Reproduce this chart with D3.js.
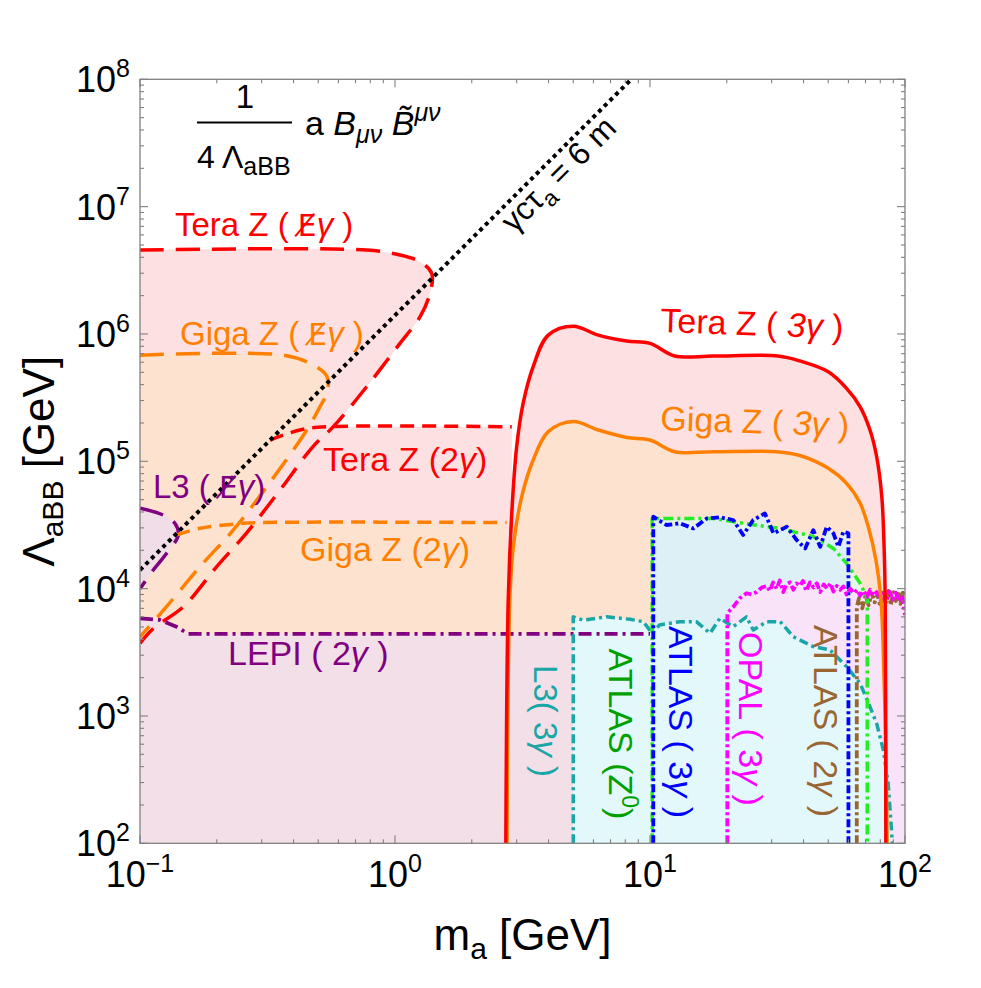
<!DOCTYPE html>
<html><head><meta charset="utf-8">
<script src="https://cdn.jsdelivr.net/npm/d3@7"></script>
<style>body{margin:0;background:#fff} svg text{font-family:"Liberation Sans",Arial,sans-serif}</style>
</head><body><svg id="c" width="981" height="988"></svg>
<script>
// ---------- data (m_a [GeV], Lambda_aBB [GeV]) ----------
const xTickExps = [-1, 0, 1, 2];
const yTickExps = [2, 3, 4, 5, 6, 7, 8];

const decayLine = [[0.1, 1.4e4], [8.4, 9.9e7]];

const teraMissE = [[0.1,4.56e6],[0.774,4.56e6],[1.046,4.17e6],[1.253,3.69e6],[1.393,2.99e6],[1.371,2.08e6],[1.253,1.36e6],[1.046,8.43e5],[0.774,3.85e5],[0.573,1.87e5],[0.476,1.30e5],[0.354,5.94e4],[0.262,2.74e4],[0.200,1.49e4],[0.148,7.21e3],[0.113,4.88e3],[0.1,3.72e3]];
const gigaMissE = [[0.1,6.82e5],[0.364,6.82e5],[0.465,5.87e5],[0.531,4.91e5],[0.547,4.35e5],[0.540,3.42e5],[0.508,2.68e5],[0.451,1.76e5],[0.314,6.31e4],[0.232,2.88e4],[0.172,1.49e4],[0.127,7.21e3],[0.1016,4.33e3],[0.1,4.17e3]];
const l3MissE = [[0.1,4.28e4],[0.1233,3.78e4],[0.137,3.26e4],[0.1413,2.64e4],[0.127,1.89e4],[0.1127,1.40e4],[0.1,1.0e4]];
const tera2g = [[0.3236,1.469e5],[0.4236,1.762e5],[0.5395,1.866e5],[2.871,1.866e5]];
const giga2g = [[0.139,2.64e4],[0.172,2.98e4],[0.232,3.21e4],[0.296,3.30e4],[2.74,3.30e4]];
const lepi2g = [[0.1,5.85e3],[0.1197,5.68e3],[0.139,5.02e3],[0.1545,4.41e3],[10,4.41e3]];
const tera3g = [[2.72,100],[2.78,8.13e3],[2.87,3.90e4],[3.0,1.30e5],[3.18,2.85e5],[3.48,5.52e5],[3.99,9.79e5],[5.0,1.15e6],[6.27,9.79e5],[8.11,8.79e5],[10.0,8.43e5],[12.5,6.71e5],[17.7,6.71e5],[31.8,6.71e5],[38.7,6.14e5],[50.0,5.05e5],[59.0,3.74e5],[66.7,2.68e5],[72.9,1.76e5],[77.4,1.09e5],[81.1,5.27e4],[82.8,2.13e4],[83.6,8.63e3],[84.1,100]];
const giga3g = [[2.75,100],[2.82,8.13e3],[2.91,2.13e4],[3.14,5.27e4],[3.48,1.02e5],[3.99,1.71e5],[5.0,2.05e5],[6.27,1.76e5],[8.11,1.54e5],[10,1.47e5],[12.5,1.19e5],[17.7,1.19e5],[31.4,1.19e5],[38.7,1.11e5],[50.0,8.81e4],[59.0,6.71e4],[66.7,4.68e4],[71.8,3.06e4],[76.9,1.68e4],[80.5,8.13e3],[82.8,1.91e3],[84.1,541],[85.1,100]];
const l3_3g = [[5.0,100],[5.0,6.01e3],[5.47,5.66e3],[6.76,6.01e3],[8.36,5.74e3],[9.42,5.50e3],[10.2,4.46e3],[10.9,5.19e3],[13.1,5.50e3],[15.2,5.50e3],[17.2,4.46e3],[18.8,5.85e3],[21.2,5.02e3],[23.9,6.01e3],[25.4,4.73e3],[28.7,5.50e3],[32.4,5.50e3],[36.5,4.19e3],[43.7,3.50e3],[50.8,3.30e3],[59.0,2.44e3],[66.7,1.80e3],[72.9,1.18e3],[77.4,875],[82.2,541],[85.9,296],[88.7,120],[89.1,100]];
const atlasZ0 = [[10.2,100],[10.2,3.56e4],[17.7,3.56e4],[23.2,3.26e4],[32.4,2.97e4],[43.7,2.56e4],[52.4,2.07e4],[59.0,1.58e4],[66.7,1.10e4],[71.1,8.43e3],[71.1,100]];
const atlas3g = [[10.3,100],[10.3,3.67e4],[11.6,3.16e4],[13.1,3.26e4],[14.8,2.97e4],[16.7,3.56e4],[18.8,3.63e4],[21.2,3.46e4],[23.2,2.64e4],[25.4,3.46e4],[28.2,3.90e4],[30.5,2.72e4],[34.4,3.06e4],[37.6,2.41e4],[40.6,2.07e4],[43.7,2.88e4],[46.5,2.13e4],[49.3,3.06e4],[52.4,2.72e4],[54.8,2.13e4],[57.3,2.80e4],[60.0,2.72e4],[60.0,100]];
const opal3g = [[20.1,100],[20.1,6.4e3],[21.2,7.2e3],[22.5,8.4e3],[23.9,9.2e3],[25,9.0e3],[26.2,9.4e3],[27.4,1.02e4],[28.7,1.05e4],[29.5,9.6e3],[30.4,1.12e4],[31.4,1.0e4],[32.3,1.16e4],[33.3,9.4e3],[34.3,1.08e4],[35.4,1.12e4],[36.5,9.8e3],[37.6,1.1e4],[38.7,1.05e4],[39.8,1.15e4],[41,9.6e3],[42.4,1.12e4],[43.8,1.02e4],[45.1,1.1e4],[46.5,9.4e3],[48,1.08e4],[49.5,1.0e4],[51,1.1e4],[52.4,9.5e3],[54,1.05e4],[55.7,9.8e3],[57.3,1.04e4],[59,9.0e3],[61,1.0e4],[63,9.2e3],[65,9.8e3],[66.7,8.8e3],[69,9.6e3],[71,8.6e3],[73,9.8e3],[75.2,8.8e3],[77.5,9.4e3],[80,8.2e3],[82.5,9.2e3],[84.7,8.0e3],[87,9.5e3],[89.5,8.2e3],[92,9.3e3],[95,8.0e3],[97.5,8.8e3],[100,6.2e3]];
const atlas2g = [[64.7,100],[64.7,7.2e3],[66,8.4e3],[68,7.0e3],[70,8.8e3],[72,7.4e3],[74,9.2e3],[76,7.8e3],[78,9.0e3],[80,7.2e3],[82,9.3e3],[84,7.8e3],[86,9.6e3],[88,7.4e3],[90,9.4e3],[92,8.0e3],[94,9.6e3],[96,7.6e3],[98,9.3e3],[100,8.6e3]];

// ---------- setup ----------
const svg = d3.select("#c");
const X0 = 140, X1 = 905, Y0 = 79.3, Y1 = 843.3;
const x = d3.scaleLog().domain([0.1, 100]).range([X0, X1]);
const y = d3.scaleLog().domain([1e2, 1e8]).range([Y1, Y0]);
const [xMin, xMax] = x.domain(), [yMin] = y.domain();

svg.append("defs").append("clipPath").attr("id", "clip")
  .append("rect").attr("x", X0).attr("y", Y0).attr("width", X1 - X0).attr("height", Y1 - Y0);
const plot = svg.append("g").attr("clip-path", "url(#clip)");

const lin = d3.line().x(d => x(d[0])).y(d => y(d[1]));
const smooth = d3.line().x(d => x(d[0])).y(d => y(d[1])).curve(d3.curveCatmullRom.alpha(0.5));
const toBottom = a => [[a[0][0], yMin], ...a, [a[a.length - 1][0], yMin]];
// regions whose left boundary follows the decay-length line down to the frame
const underDecay = a => [...a, [a[a.length - 1][0], yMin], [xMin, yMin], decayLine[0]];

const pink = "#fde0e1", peach = "#fde3cf";
const fills = [
  [teraMissE, pink, smooth],
  [underDecay(tera2g), pink, lin],
  [tera3g, pink, smooth],
  [gigaMissE, peach, smooth],
  [underDecay(giga2g), peach, lin],
  [giga3g, peach, smooth],
  [l3MissE, "#f0dde8", smooth],
  [toBottom(lepi2g), "#f2dfe7", lin],
  [[...atlas2g, [xMax, yMin]], "#efe5e1", lin],
  [atlasZ0, "#e6f6e9", lin],
  [atlas3g, "#dcf0f6", lin],
  [[...opal3g, [xMax, yMin]], "#f8e3f8", lin],
  [l3_3g, "#e3f8fb", lin]
];
fills.forEach(([d, c, g]) => plot.append("path").attr("d", g(d) + "Z").attr("fill", c).attr("stroke", "none"));

const lines = [
  [teraMissE, "#ff0000", "24,12", 3.5, smooth],
  [gigaMissE, "#ff8000", "24,12", 3.5, smooth],
  [l3MissE, "#800080", "24,12", 3.5, smooth],
  [tera2g, "#ff0000", "14,8", 3.5, smooth],
  [giga2g, "#ff8000", "14,8", 3.5, smooth],
  [lepi2g, "#800080", "13,5,3,5", 3.8, lin],
  [decayLine, "#000000", "4,4", 4, lin],
  [l3_3g, "#1aa6a6", "9,4,3,4", 3.5, lin],
  [atlas2g, "#996633", "8,3,3,3", 3.8, lin],
  [atlasZ0, "#22ee22", "10,4,3,4", 3.5, lin],
  [atlas3g, "#0000ff", "8,3,3,3", 3.8, lin],
  [opal3g, "#ff00ff", "8,3,3,3", 3.8, lin],
  [giga3g, "#ff8000", null, 3.5, smooth],
  [tera3g, "#ff0000", null, 3.5, smooth]
];
lines.forEach(([d, c, dash, w, g]) => {
  const p = plot.append("path").attr("d", g(d)).attr("fill", "none").attr("stroke", c)
    .attr("stroke-width", w).attr("stroke-linejoin", "round");
  if (dash) p.attr("stroke-dasharray", dash);
});

// ---------- frame & ticks ----------
const fr = svg.append("g").attr("stroke", "#808080").attr("fill", "none");
fr.append("rect").attr("x", X0).attr("y", Y0).attr("width", X1 - X0).attr("height", Y1 - Y0).attr("stroke-width", 1.3);
const tick = (x1, y1, x2, y2) => fr.append("line").attr("x1", x1).attr("y1", y1).attr("x2", x2).attr("y2", y2).attr("stroke-width", 1.1);
for (let e = -1; e <= 1; e++) for (let j = 1; j <= 9; j++) {
  const v = j * Math.pow(10, e), px = x(v), L = j === 1 ? 8 : 4;
  tick(px, Y1, px, Y1 - L); tick(px, Y0, px, Y0 + L);
}
tick(x(100), Y1, x(100), Y1 - 8); tick(x(100), Y0, x(100), Y0 + 8);
for (let e = 2; e <= 7; e++) for (let j = 1; j <= 9; j++) {
  const v = j * Math.pow(10, e), py = y(v), L = j === 1 ? 8 : 4;
  tick(X0, py, X0 + L, py); tick(X1, py, X1 - L, py);
}
tick(X0, y(1e8), X0 + 8, y(1e8)); tick(X1, y(1e8), X1 - 8, y(1e8));

// tick labels
const T = svg.append("g").attr("fill", "#000");
yTickExps.forEach(e => {
  const t = T.append("text").attr("x", X0 - 10).attr("y", y(Math.pow(10, e)) + 13).attr("text-anchor", "end").attr("font-size", 36);
  t.append("tspan").text("10");
  t.append("tspan").attr("dy", -15).attr("font-size", 25).text(String(e));
});
xTickExps.forEach(e => {
  const t = T.append("text").attr("x", x(Math.pow(10, e))).attr("y", 887).attr("text-anchor", "middle").attr("font-size", 36);
  t.append("tspan").text("10");
  t.append("tspan").attr("dy", -15).attr("font-size", 25).text(e < 0 ? "\u2212" + (-e) : String(e));
});

// axis titles
const xt = T.append("text").attr("x", (X0 + X1) / 2).attr("y", 950).attr("text-anchor", "middle").attr("font-size", 44);
xt.append("tspan").text("m");
xt.append("tspan").attr("dy", 9).attr("font-size", 30).text("a");
xt.append("tspan").attr("dy", -9).text(" [GeV]");
const yt = T.append("text").attr("transform", `translate(54,${(Y0 + Y1) / 2}) rotate(-90)`).attr("text-anchor", "middle").attr("font-size", 44);
yt.append("tspan").text("\u039b");
yt.append("tspan").attr("dy", 9).attr("font-size", 30).text("aBB");
yt.append("tspan").attr("dy", -9).text(" [GeV]");

// ---------- annotations ----------
const A = svg.append("g");
function label(txt, px, py, color, opts = {}) {
  const t = A.append("text").attr("fill", color).attr("font-size", opts.size || 33);
  if (opts.rot !== undefined) {
    t.attr("transform", `translate(${px},${py}) rotate(${opts.rot})`);
  } else { t.attr("x", px).attr("y", py); }
  if (opts.anchor) t.attr("text-anchor", opts.anchor);
  if (opts.dy) t.attr("dy", opts.dy);
  txt.forEach(([s, st]) => {
    const sp = t.append("tspan").text(s);
    if (st === "i") sp.attr("font-style", "italic");
    if (st === "slash") sp.attr("font-family", "DejaVu Sans").attr("font-size", (opts.size || 33) * 0.9);
    if (st === "sup") sp.attr("dy", -13).attr("font-size", 23);
    if (st === "unsup") sp.attr("dy", 13);
  });
  return t;
}
const ES = "E\u0338";
label([["Tera Z ( "], [ES, "slash"], ["\u03b3", "i"], [" )"]], 175, 236, "#ff0000", {size: 33});
label([["Giga Z ( "], [ES, "slash"], ["\u03b3", "i"], [" )"]], 180, 345, "#ff8000", {size: 33});
label([["Tera Z (2"], ["\u03b3", "i"], [")"]], 323, 471, "#ff0000", {size: 34});
label([["Giga Z (2"], ["\u03b3", "i"], [")"]], 300, 561, "#ff8000", {size: 34});
label([["L3 ( "], [ES, "slash"], ["\u03b3", "i"], [")"]], 153, 498, "#800080", {size: 33});
label([["LEPI ( 2"], ["\u03b3", "i"], [" )"]], 228, 665, "#800080", {size: 34});
label([["Tera Z ( "], ["3\u03b3", "i"], [" )"]], 660, 332, "#ff0000", {size: 34, rot: 2});
label([["Giga Z ( "], ["3\u03b3", "i"], [" )"]], 660, 430, "#ff8000", {size: 34, rot: 2});

label([["L3( 3"], ["\u03b3", "i"], [" )"]], 546, 721, "#1aa6a6", {size: 33, rot: 90, anchor: "middle", dy: "0.35em"});
label([["ATLAS (Z"], ["0", "sup"], [")", "unsup"]], 621, 734, "#00a000", {size: 34, rot: 90, anchor: "middle", dy: "0.35em"});
label([["ATLAS ( 3"], ["\u03b3", "i"], [" )"]], 681, 722, "#0000ff", {size: 34, rot: 90, anchor: "middle", dy: "0.35em"});
label([["OPAL ( 3"], ["\u03b3", "i"], [" )"]], 751, 719, "#ff00ff", {size: 34, rot: 90, anchor: "middle", dy: "0.35em"});
label([["ATLAS ( 2"], ["\u03b3", "i"], [" )"]], 826, 721, "#996633", {size: 34, rot: 90, anchor: "middle", dy: "0.35em"});

// decay-length label
const dl = A.append("text").attr("transform", "translate(566,182) rotate(-45)").attr("text-anchor", "middle").attr("font-size", 32).attr("fill", "#000");
dl.append("tspan").text("\u03b3c\u03c4");
dl.append("tspan").attr("dy", 8).attr("font-size", 23).text("a");
dl.append("tspan").attr("dy", -8).text(" = 6 m");

// operator formula
A.append("text").attr("x", 245).attr("y", 108).attr("text-anchor", "middle").attr("font-size", 33).text("1");
A.append("line").attr("x1", 197).attr("x2", 292).attr("y1", 122.5).attr("y2", 122.5).attr("stroke", "#000").attr("stroke-width", 1.8);
const den = A.append("text").attr("x", 197).attr("y", 168).attr("font-size", 32);
den.append("tspan").text("4 \u039b");
den.append("tspan").attr("dy", 7).attr("font-size", 25).text("aBB");
const op = A.append("text").attr("x", 305).attr("y", 135).attr("font-size", 34);
op.append("tspan").text("a ");
op.append("tspan").attr("font-style", "italic").text("B");
op.append("tspan").attr("dy", 8).attr("font-size", 25).attr("font-style", "italic").text("\u03bc\u03bd");
op.append("tspan").attr("dy", -8).text(" ");
op.append("tspan").attr("font-style", "italic").text("B\u0303");
op.append("tspan").attr("dy", -14).attr("font-size", 25).attr("font-style", "italic").text("\u03bc\u03bd");
</script></body></html>
